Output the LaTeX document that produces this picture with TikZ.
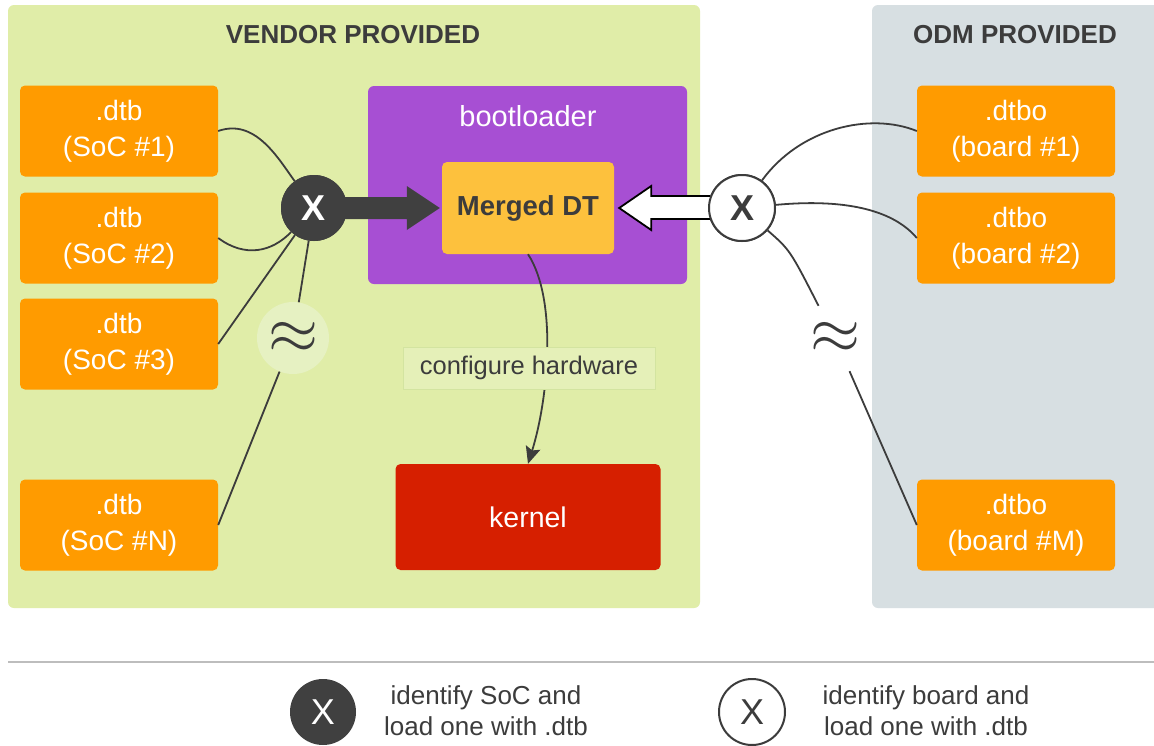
\documentclass[tikz,border=0pt]{standalone}
\usepackage{fontspec}
\usepackage{graphicx}
\setmainfont{Liberation Sans}
\usetikzlibrary{arrows.meta,calc}
\definecolor{vgreen}{HTML}{E0EDA8}
\definecolor{odmgray}{HTML}{D7DFE2}
\definecolor{orng}{HTML}{FF9B00}
\definecolor{purp}{HTML}{A74FD3}
\definecolor{mergy}{HTML}{FDC13D}
\definecolor{kred}{HTML}{D61F00}
\definecolor{dark}{HTML}{3C3C3C}
\definecolor{circdark}{HTML}{404040}
\definecolor{lblbg}{HTML}{E5F0B8}
\definecolor{lblbd}{HTML}{D3E4A0}
\definecolor{apprx}{HTML}{E6F1C2}
\definecolor{sepgray}{HTML}{BDBDBD}
\newcommand{\bigapprox}{\resizebox{50pt}{!}{$\approx$}}
\begin{document}
\begin{tikzpicture}[x=1pt,y=-1pt,
  txt/.style={font=\fontsize{28}{36}\selectfont},
  dtbox/.style={rectangle, rounded corners=5pt, fill=orng, text=white, minimum width=198pt, minimum height=91pt, align=center, inner sep=0pt, txt},
  selcirc/.style={circle, minimum size=66pt, inner sep=0pt, font=\fontsize{36}{36}\selectfont\bfseries},
  conn/.style={draw=dark, line width=1.8pt},
  approxnode/.style={circle, minimum size=72pt, inner sep=0pt, text=dark},
  title/.style={font=\fontsize{26}{26}\selectfont\bfseries, text=dark}
]
\useasboundingbox (0,0) rectangle (1154,745);
\fill[white] (0,0) rectangle (1154,745);
% panels
\fill[vgreen, rounded corners=6pt] (8,5) rectangle (700,608);
\fill[odmgray, rounded corners=6pt] (872,5) rectangle (1175,608);
\node[title] (vt) at (353,35) {VENDOR PROVIDED};
\node[title] (ot) at (1015,35) {ODM PROVIDED};
% vendor dtb boxes
\node[dtbox] (s1) at (119,131) {.dtb\\(SoC \#1)};
\node[dtbox] (s2) at (119,238) {.dtb\\(SoC \#2)};
\node[dtbox] (s3) at (119,344) {.dtb\\(SoC \#3)};
\node[dtbox] (sN) at (119,525) {.dtb\\(SoC \#N)};
% odm boxes
\node[dtbox] (b1) at (1016,131) {.dtbo\\(board \#1)};
\node[dtbox] (b2) at (1016,238) {.dtbo\\(board \#2)};
\node[dtbox] (bM) at (1016,525) {.dtbo\\(board \#M)};
% bootloader
\fill[purp, rounded corners=6pt] (368,86) rectangle (687,284);
\node[font=\fontsize{29}{29}\selectfont, text=white] (bl) at (528,116) {bootloader};
\node[rectangle, rounded corners=5pt, fill=mergy, minimum width=172pt, minimum height=92pt, inner sep=0pt, font=\fontsize{27.5}{27.5}\selectfont\bfseries, text=dark] (merged) at (528,208) {Merged DT};
% kernel
\node[rectangle, rounded corners=5pt, fill=kred, minimum width=265pt, minimum height=106pt, inner sep=0pt, font=\fontsize{28.5}{28.5}\selectfont, text=white] (kernel) at (528,517) {kernel};
% selectors
\node[selcirc, fill=circdark, text=white] (xb) at (314,208) {X};
\node[selcirc, fill=white, draw=dark, line width=2pt, text=dark] (xw) at (742,208) {X};
\node[approxnode, fill=apprx] (ap1) at (293,338) {\bigapprox};
\node[approxnode] (ap2) at (835,338) {\bigapprox};
% left connectors
\draw[conn] (s1.east) .. controls (255,118) and (278,158) .. (xb);
\draw[conn] (s2.east) .. controls (245,258) and (272,252) .. (xb);
\draw[conn] (s3.east) -- (xb);
\draw[conn] (xb) -- (ap1);
\draw[conn] (ap1) -- (sN.east);
% right connectors
\draw[conn] (xw) .. controls (800,128) and (870,112) .. (b1.west);
\draw[conn] (xw) .. controls (850,198) and (895,212) .. (b2.west);
\draw[conn] (xw) .. controls (790,250) .. (ap2);
\draw[conn] (ap2) -- (bM.west);
% black arrow
\fill[circdark] ($(xb.center)+(0,-11)$) -- ($(merged.west)+(-35,-11)$) -- ($(merged.west)+(-35,-22)$) -- ($(merged.west)+(-2,0)$) -- ($(merged.west)+(-35,22)$) -- ($(merged.west)+(-35,11)$) -- ($(xb.center)+(0,11)$) -- cycle;
\node[selcirc, fill=circdark, text=white] at (xb) {X};
% white arrow
\filldraw[fill=white, draw=black, line width=1.8pt, line join=miter]
  ($(xw.west)+(2,-12)$) -- ($(merged.east)+(37,-12)$) -- ($(merged.east)+(37,-22)$) -- ($(merged.east)+(5,0)$) -- ($(merged.east)+(37,22)$) -- ($(merged.east)+(37,11)$) -- ($(xw.west)+(2,11)$);
\node[selcirc, fill=white, draw=dark, line width=2pt, text=dark] at (xw) {X};
% configure hardware
\draw[conn, -{Stealth[length=17pt, width=15pt, inset=3pt]}] (merged.south) .. controls (558,300) and (548,400) .. (kernel.north);
\node[rectangle, fill=lblbg, draw=lblbd, line width=0.8pt, minimum width=252pt, minimum height=42pt, inner sep=0pt, font=\fontsize{25.5}{25.5}\selectfont, text=dark] (cfg) at (529,368) {configure hardware};
% legend
\draw[sepgray, line width=1.8pt] (8,662) -- (1154,662);
\node[circle, minimum size=66pt, inner sep=0pt, fill=circdark, text=white, font=\fontsize{36}{36}\selectfont] (lb) at (323,712) {X};
\node[align=center, text=dark, font=\fontsize{26}{31}\selectfont] (lbt) at (486,711) {identify SoC and\\load one with .dtb};
\node[circle, minimum size=66pt, inner sep=0pt, fill=white, draw=dark, line width=2pt, text=dark, font=\fontsize{36}{36}\selectfont] (lw) at (752,712) {X};
\node[align=center, text=dark, font=\fontsize{26}{31}\selectfont] (lwt) at (926,711) {identify board and\\load one with .dtb};
\end{tikzpicture}
\end{document}
